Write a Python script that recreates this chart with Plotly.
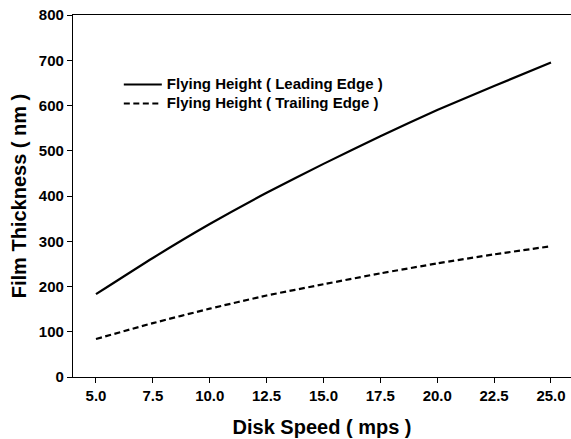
import plotly.graph_objects as go

speed = [5.0, 7.5, 10.0, 12.5, 15.0, 17.5, 20.0, 22.5, 25.0]
leading = [183, 263, 338, 407, 471, 532, 590, 643, 695]
trailing = [84, 119, 151, 180, 205, 229, 251, 271, 289]
x_ticks = [5.0, 7.5, 10.0, 12.5, 15.0, 17.5, 20.0, 22.5, 25.0]
y_ticks = [0, 100, 200, 300, 400, 500, 600, 700, 800]

FONT = "Liberation Sans"

def legend_label(s):
    return f"<span style='font-size:15px'><b>{s}</b></span>"

fig = go.Figure()
fig.add_trace(go.Scatter(x=speed, y=leading, mode="lines",
                         name=legend_label("Flying Height ( Leading Edge )"),
                         line=dict(color="black", width=2.2, shape="spline", smoothing=0.5)))
fig.add_trace(go.Scatter(x=speed, y=trailing, mode="lines",
                         name=legend_label("Flying Height ( Trailing Edge )"),
                         line=dict(color="black", width=2.2, dash="6px,3.5px",
                                   shape="spline", smoothing=0.5)))

fig.update_layout(
    width=571, height=439,
    margin=dict(l=73, r=0, t=15, b=62),
    plot_bgcolor="white", paper_bgcolor="white",
    font=dict(family=FONT, color="black"),
    showlegend=True,
    legend=dict(x=0.092, y=0.848, xanchor="left", yanchor="top",
                bgcolor="rgba(0,0,0,0)", font=dict(size=12, family=FONT),
                tracegroupgap=0, itemwidth=38),
    xaxis=dict(range=[3.99, 25.88], tickvals=x_ticks,
               ticktext=[f"<b>{v:.1f}</b>" for v in x_ticks],
               showgrid=False, zeroline=False,
               showline=True, linecolor="black", linewidth=1.2, mirror=True,
               ticks="outside", ticklen=5, tickcolor="black",
               tickfont=dict(size=15),
               title=dict(text="<b>Disk Speed ( mps )</b>", font=dict(size=20), standoff=16)),
    yaxis=dict(range=[0, 800], tickvals=y_ticks,
               ticktext=[f"<b>{v}</b>" for v in y_ticks],
               showgrid=False, zeroline=False,
               showline=True, linecolor="black", linewidth=1.2,
               ticks="outside", ticklen=5, tickcolor="black",
               tickfont=dict(size=15),
               title=dict(text="<b>Film Thickness ( nm )</b>", font=dict(size=20), standoff=6)),
)

fig.write_html("out.html")
